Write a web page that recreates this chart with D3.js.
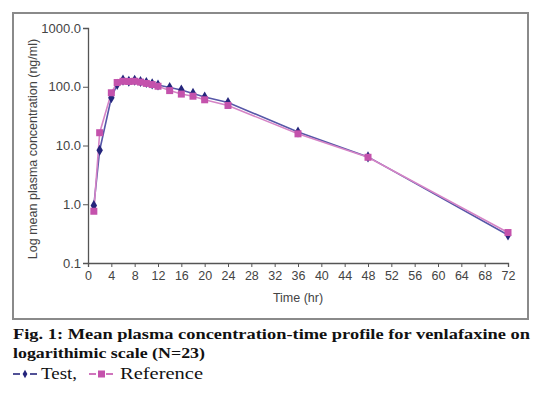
<!DOCTYPE html>
<html>
<head>
<meta charset="utf-8">
<script src="https://cdn.jsdelivr.net/npm/d3@7/dist/d3.min.js"></script>
<style>
  body { margin: 0; background: #fff; }
  .axis text { font-family: "Liberation Sans", Arial, sans-serif; fill: #444; }
  .axis path, .axis line { stroke: #555; }
  .caption { font-family: "Liberation Serif", "DejaVu Serif", serif; fill: #111; }
</style>
</head>
<body>
<svg id="chart" width="540" height="396"></svg>
<script>
// sampling times (hr)
const times = [1, 2, 4, 5, 6, 7, 8, 9, 10, 11, 12, 14, 16, 18, 20, 24, 36, 48, 72];
// mean plasma concentration (ng/ml)
const testValues = [0.95, 8.3, 65, 110, 130, 124, 129, 123, 118, 112, 107, 97, 88, 77, 67, 54, 17, 6.4, 0.30];
const refValues  = [0.76, 16.5, 79, 118, 124, 123, 124, 120, 114, 109, 102, 86, 75, 69, 60, 48, 15.8, 6.3, 0.33];
const xTicks = d3.range(0, 73, 4);
const yTicks = [0.1, 1, 10, 100, 1000];

const svg = d3.select('#chart');

// outer frame
svg.append('rect')
  .attr('x', 13).attr('y', 13)
  .attr('width', 515).attr('height', 306)
  .attr('fill', 'none')
  .attr('stroke', '#8a8a8a')
  .attr('stroke-width', 2);

const x = d3.scaleLinear().domain([0, 72]).range([88, 508]);
const y = d3.scaleLog().domain([0.1, 1000]).range([263, 28]);

const xAxis = svg.append('g')
  .attr('class', 'axis')
  .attr('transform', 'translate(0,263)')
  .call(d3.axisBottom(x).tickValues(xTicks).tickSize(4).tickPadding(4));
xAxis.selectAll('text').style('font-size', '12.5px');

const yAxis = svg.append('g')
  .attr('class', 'axis')
  .attr('transform', 'translate(88,0)')
  .call(d3.axisLeft(y).tickValues(yTicks).tickFormat(d3.format('.1f')).tickSize(5).tickPadding(2));
yAxis.selectAll('text').style('font-size', '13px');
svg.selectAll('.axis .domain').attr('stroke-width', 1.3);

svg.append('text')
  .attr('x', 298).attr('y', 302)
  .attr('text-anchor', 'middle')
  .style('font-family', '"Liberation Sans", Arial, sans-serif')
  .style('font-size', '12.5px')
  .attr('fill', '#444')
  .text('Time (hr)');

svg.append('text')
  .attr('transform', 'translate(37,149) rotate(-90)')
  .attr('text-anchor', 'middle')
  .style('font-family', '"Liberation Sans", Arial, sans-serif')
  .style('font-size', '12.5px')
  .attr('fill', '#444')
  .text('Log mean plasma concentration (ng/ml)');

const testData = times.map((t, i) => ({t: t, v: testValues[i]}));
const refData = times.map((t, i) => ({t: t, v: refValues[i]}));

const line = d3.line().x(d => x(d.t)).y(d => y(d.v));

svg.append('path').datum(testData)
  .attr('d', line).attr('fill', 'none')
  .attr('stroke', '#5757a8').attr('stroke-width', 1.6);
svg.append('path').datum(refData)
  .attr('d', line).attr('fill', 'none')
  .attr('stroke', '#d584c6').attr('stroke-width', 1.6);

svg.append('g').selectAll('path')
  .data(testData)
  .enter().append('path')
    .attr('d', d3.symbol(d3.symbolDiamond, 36))
    .attr('transform', d => `translate(${x(d.t)},${y(d.v)})`)
    .attr('fill', '#25257c');

svg.append('g').selectAll('rect')
  .data(refData)
  .enter().append('rect')
    .attr('x', d => x(d.t) - 3.5)
    .attr('y', d => y(d.v) - 3.5)
    .attr('width', 7).attr('height', 7)
    .attr('fill', '#c452ac');

// caption
svg.append('text').attr('class', 'caption')
  .attr('x', 13).attr('y', 339)
  .attr('textLength', 517).attr('lengthAdjust', 'spacingAndGlyphs')
  .style('font-size', '15px').style('font-weight', 'bold')
  .text('Fig. 1: Mean plasma concentration-time profile for venlafaxine on');
svg.append('text').attr('class', 'caption')
  .attr('x', 13).attr('y', 358)
  .attr('textLength', 192).attr('lengthAdjust', 'spacingAndGlyphs')
  .style('font-size', '15px').style('font-weight', 'bold')
  .text('logarithimic scale (N=23)');

// legend line: short dashes either side of each marker
const legY = 379;
const legendItems = [
  {label: 'Test,', x0: 13, tx: 41, tw: 36, color: '#25257c', mark: '#25257c', sym: 'diamond'},
  {label: 'Reference', x0: 89, tx: 120, tw: 83, color: '#c452ac', mark: '#c452ac', sym: 'square'}
];
const leg = svg.append('g');
legendItems.forEach(it => {
  const cy = legY - 5;
  leg.append('line').attr('x1', it.x0).attr('x2', it.x0 + 7).attr('y1', cy).attr('y2', cy)
    .attr('stroke', it.color).attr('stroke-width', 1.6);
  leg.append('line').attr('x1', it.x0 + 17).attr('x2', it.x0 + 24).attr('y1', cy).attr('y2', cy)
    .attr('stroke', it.color).attr('stroke-width', 1.6);
  if (it.sym === 'diamond') {
    leg.append('path').attr('d', d3.symbol(d3.symbolDiamond, 20))
      .attr('transform', `translate(${it.x0 + 12},${cy})`).attr('fill', it.mark);
  } else {
    leg.append('rect').attr('x', it.x0 + 9).attr('y', cy - 3.5).attr('width', 7).attr('height', 7)
      .attr('fill', it.mark);
  }
  leg.append('text').attr('class', 'caption').attr('x', it.tx).attr('y', legY)
    .attr('textLength', it.tw).attr('lengthAdjust', 'spacingAndGlyphs')
    .style('font-size', '16px').text(it.label);
});
</script>
</body>
</html>
